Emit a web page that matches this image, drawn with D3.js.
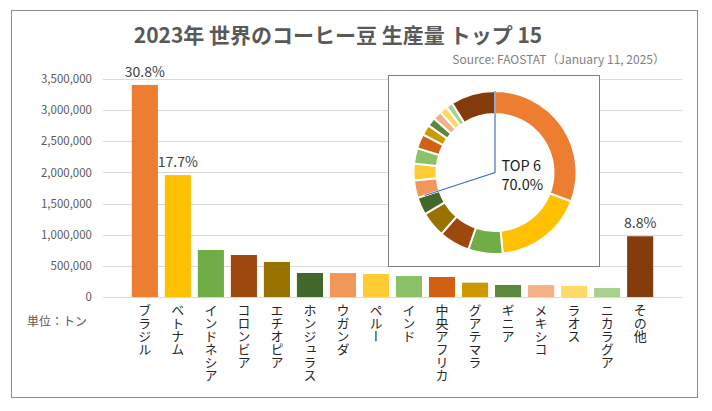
<!DOCTYPE html>
<html>
<head>
<meta charset="utf-8">
<script src="https://cdn.jsdelivr.net/npm/d3@7"></script>
<style>
  body { margin: 0; background: #fff; }
  text { font-family: "Noto Sans CJK JP", "Noto Sans", sans-serif; }
</style>
</head>
<body>
<div id="chart"></div>
<script>
// data (tonnes)
const countries = ["ブラジル", "ベトナム", "インドネシア", "コロンビア", "エチオピア", "ホンジュラス",
  "ウガンダ", "ペルー", "インド", "中央アフリカ", "グアテマラ", "ギニア", "メキシコ", "ラオス", "ニカラグア", "その他"];
const production = [3405000, 1957000, 755000, 674000, 562000, 385000,
  384000, 369000, 337000, 321000, 230000, 193000, 190000, 177000, 145000, 975000];
const yTicks = [0, 500000, 1000000, 1500000, 2000000, 2500000, 3000000, 3500000];
const pctLabelled = ["ブラジル", "ベトナム", "その他"];
const topN = 6;

const palette = ["#ED7D31", "#FFC000", "#70AD47", "#9E480E", "#997300", "#43682B",
  "#F1975A", "#FFCD33", "#8CC168", "#D26012", "#CC9A00", "#5A8A39", "#F4B183", "#FFD966", "#A9D18E", "#843C0C"];

const svgWidth = 712;
const svgHeight = 411;
const total = d3.sum(production);
const rows = countries.map((c, i) => ({ name: c, value: production[i], color: palette[i] }));

const svg = d3.select("#chart")
  .append("svg")
  .attr("width", svgWidth)
  .attr("height", svgHeight);

// outer frame
svg.append("rect")
  .attr("x", 11.5).attr("y", 10.5)
  .attr("width", 686).attr("height", 387)
  .attr("fill", "#fff")
  .attr("stroke", "#8c8c8c");

// title + source
svg.append("text")
  .attr("x", 338).attr("y", 43)
  .attr("text-anchor", "middle")
  .attr("font-size", 21)
  .attr("font-weight", "bold")
  .attr("fill", "#595959")
  .text("2023年 世界のコーヒー豆 生産量 トップ 15");

svg.append("text")
  .attr("x", 665).attr("y", 64)
  .attr("text-anchor", "end")
  .attr("font-size", 12)
  .attr("fill", "#7f7f7f")
  .text("Source: FAOSTAT（January 11, 2025）");

// scales
const x = d3.scaleBand()
  .domain(countries)
  .range([128.5, 656.5])
  .paddingInner(0.21)
  .paddingOuter(0.1);

const y = d3.scaleLinear()
  .domain([0, 3500000])
  .range([297, 79]);

// gridlines
svg.append("g")
  .selectAll("line")
  .data(yTicks)
  .enter()
  .append("line")
  .attr("x1", 103).attr("x2", 682)
  .attr("y1", d => Math.round(y(d)) + 0.5)
  .attr("y2", d => Math.round(y(d)) + 0.5)
  .attr("stroke", "#d9d9d9");

// y axis labels
const leftAxis = d3.axisLeft(y)
  .tickValues(yTicks)
  .tickFormat(d3.format(","))
  .tickSize(0)
  .tickPadding(0);

const yAxis = svg.append("g")
  .attr("transform", "translate(92,0)")
  .call(leftAxis);
yAxis.select(".domain").remove();
yAxis.selectAll("text")
  .attr("font-size", 11.5)
  .attr("fill", "#595959")
  .style("font-family", "\"Noto Sans CJK JP\", sans-serif");

// bars
svg.append("g")
  .selectAll("rect")
  .data(rows)
  .enter()
  .append("rect")
  .attr("x", d => x(d.name))
  .attr("width", x.bandwidth())
  .attr("y", d => y(d.value))
  .attr("height", d => y(0) - y(d.value))
  .attr("fill", d => d.color);

// percent labels
svg.append("g")
  .selectAll("text")
  .data(rows.filter(d => pctLabelled.includes(d.name)))
  .enter()
  .append("text")
  .attr("x", d => x(d.name) + x.bandwidth() / 2)
  .attr("y", d => y(d.value) - 8)
  .attr("text-anchor", "middle")
  .attr("font-size", 14)
  .attr("fill", "#404040")
  .text(d => (d.value / total * 100).toFixed(1) + "%");

// category labels, vertical
svg.append("g")
  .selectAll("text")
  .data(countries)
  .enter()
  .append("text")
  .attr("x", d => x(d) + x.bandwidth() / 2)
  .attr("y", 304)
  .attr("writing-mode", "vertical-rl")
  .attr("font-size", 13)
  .attr("fill", "#262626")
  .text(d => d);

svg.append("text")
  .attr("x", 27).attr("y", 326)
  .attr("font-size", 12)
  .attr("fill", "#595959")
  .text("単位：トン");

// inset donut
svg.append("rect")
  .attr("x", 388.5).attr("y", 75.5)
  .attr("width", 211).attr("height", 191)
  .attr("fill", "#fff")
  .attr("stroke", "#7f7f7f");

const cx = 495, cy = 172.5, outerR = 81.5, innerR = 58.5;
const donut = svg.append("g").attr("transform", `translate(${cx},${cy})`);

const pie = d3.pie().value(d => d.value).sort(null);
const arc = d3.arc().innerRadius(innerR).outerRadius(outerR);

donut.selectAll("path")
  .data(pie(rows))
  .enter()
  .append("path")
  .attr("d", arc)
  .attr("fill", d => d.data.color)
  .attr("stroke", "#fff")
  .attr("stroke-width", 2);

const topShare = d3.sum(production.slice(0, topN)) / total;
const endAngle = topShare * 2 * Math.PI;
const p0 = d3.pointRadial(0, outerR);
const p1 = d3.pointRadial(endAngle, 74);

donut.append("polyline")
  .attr("points", `${p0[0]},${p0[1]} 0,0 ${p1[0]},${p1[1]}`)
  .attr("fill", "none")
  .attr("stroke", "#4472C4")
  .attr("stroke-width", 1.2);

const centerLabel = donut.append("text")
  .attr("font-size", 14.5)
  .attr("fill", "#1a1a1a");
centerLabel.append("tspan").attr("x", 6.5).attr("y", -2).text("TOP " + topN);
centerLabel.append("tspan").attr("x", 6.5).attr("y", 17).text((topShare * 100).toFixed(1) + "%");
</script>
</body>
</html>
